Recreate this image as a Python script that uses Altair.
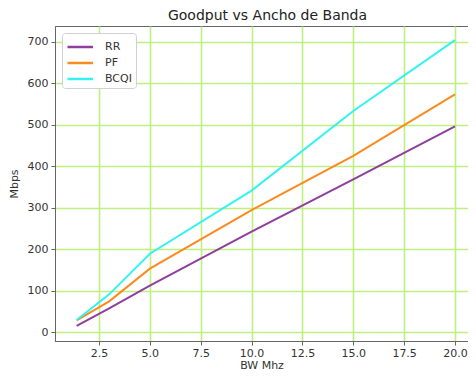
import altair as alt
import pandas as pd

bw = [1.4, 3, 5, 10, 15, 20]
rr = [15, 57, 112, 242, 368, 496]
pf = [28, 74, 153, 294, 425, 573]
bcqi = [29, 91, 189, 341, 533, 704]
series = ["RR", "PF", "BCQI"]
colors = ["#8e3f9e", "#fb8a1f", "#33f2f2"]

rows = []
for name, vals in zip(series, [rr, pf, bcqi]):
    for x, y in zip(bw, vals):
        rows.append({"BW": x, "Mbps": y, "Scheduler": name})
df = pd.DataFrame(rows)

font = "DejaVu Sans"
chart = alt.Chart(df).mark_line(strokeWidth=2).encode(
    x=alt.X("BW:Q", title="BW Mhz",
            scale=alt.Scale(domain=[0.337, 20.64], nice=False, zero=False),
            axis=alt.Axis(values=[2.5, 5, 7.5, 10, 12.5, 15, 17.5, 20], format=".1f")),
    y=alt.Y("Mbps:Q", title="Mbps",
            scale=alt.Scale(domain=[-21.5, 738], nice=False, zero=False),
            axis=alt.Axis(values=[0, 100, 200, 300, 400, 500, 600, 700])),
    color=alt.Color("Scheduler:N", sort=series,
                    scale=alt.Scale(domain=series, range=colors),
                    legend=alt.Legend(title=None, orient="top-left", offset=7,
                                      symbolType="M-1,0H2", symbolSize=290,
                                      symbolStrokeWidth=2.5, labelFontSize=11,
                                      labelOffset=19,
                                      labelFont=font, labelColor="#333",
                                      padding=4, rowPadding=1,
                                      fillColor="white", strokeColor="#d0d0d0",
                                      cornerRadius=3)),
).properties(
    width=413, height=315,
    title=alt.TitleParams("Goodput vs Ancho de Banda", font=font, fontSize=14,
                          fontWeight="normal", color="#222", offset=3, dx=6),
    padding={"left": 47, "top": 18, "right": 0, "bottom": 32},
    autosize=alt.AutoSizeParams(type="none"),
).configure_view(
    stroke="#666", strokeWidth=1
).configure_axis(
    grid=True, gridColor="#bdf07f", gridWidth=1.6, gridOpacity=1,
    domain=True, domainColor="#666", domainWidth=1,
    tickColor="#666", tickSize=4, labelFont=font, labelFontSize=11,
    labelColor="#333", titleFont=font, titleFontSize=11,
    titleFontWeight="normal", titleColor="#333",
).configure_axisX(
    labelPadding=2, titlePadding=1
).configure_axisY(
    labelPadding=3, titlePadding=8
)

chart.save("out.html", embed_options={"renderer": "svg", "actions": False})
